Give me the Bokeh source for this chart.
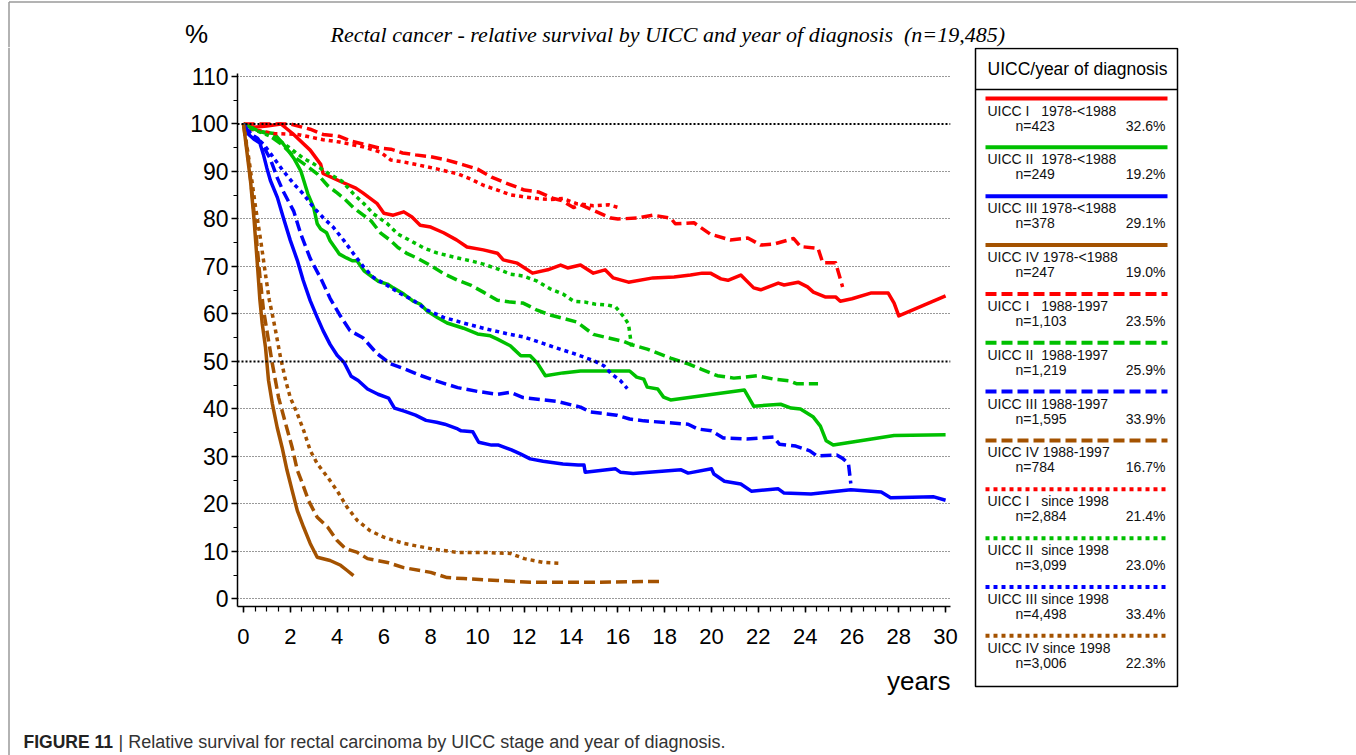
from bokeh.plotting import figure
from bokeh.models import Range1d, FixedTicker, Span
from bokeh.layouts import row, column
from bokeh.embed import file_html
from bokeh.resources import INLINE
from bokeh.core.properties import value

# ---------------- data ----------------
stages = ["UICC I", "UICC II", "UICC III", "UICC IV"]
stage_pads = ["\u00a0\u00a0\u00a0", "\u00a0\u00a0", "\u00a0", "\u00a0"]
periods = ["1978-<1988", "1988-1997", "since 1998"]
n_cases = ["423", "249", "378", "247", "1,103", "1,219", "1,595", "784",
           "2,884", "3,099", "4,498", "3,006"]
shares = ["32.6%", "19.2%", "29.1%", "19.0%", "23.5%", "25.9%", "33.9%", "16.7%",
          "21.4%", "23.0%", "33.4%", "22.3%"]

x_ticks = list(range(0, 31, 2))
x_minor = [i * 0.5 for i in range(0, 61)]
y_ticks = list(range(0, 111, 10))
y_minor = list(range(0, 111, 5))
ref_levels = [50, 100]

# UICC I 1978-<1988
s1_p1_years = [0, 0.4, 1.0, 1.6, 2.1, 2.85, 3.3, 3.4, 4.1, 4.8, 5.1, 5.7, 6.0, 6.4, 6.85, 7.2, 7.55, 8.0,
               8.55, 9.1, 9.55, 10.25, 10.85, 11.1, 11.7, 11.95, 12.35, 13.0, 13.55, 13.85, 14.4, 14.95,
               15.45, 15.8, 16.45, 17.5, 18.4, 19.1, 19.6, 19.95, 20.4, 20.7, 21.25, 21.8, 22.1, 22.85,
               23.1, 23.7, 24.1, 24.35, 24.85, 25.3, 25.5, 26.0, 26.8, 27.55, 27.8, 28.0, 30.0]
s1_p1_surv = [100, 99.3, 99.6, 100, 98, 94.5, 91.5, 89.6, 88, 86.5, 85.5, 83.3, 81.2, 80.8, 81.5, 80.4,
              78.7, 78.3, 77.1, 75.6, 74.1, 73.5, 72.8, 71.4, 70.7, 69.9, 68.6, 69.3, 70.3, 69.7, 70.3,
              68.6, 69.3, 67.6, 66.7, 67.6, 67.8, 68.2, 68.6, 68.6, 67.4, 67.1, 68.2, 65.5, 65.1, 66.5,
              66.1, 66.7, 65.7, 64.6, 63.6, 63.6, 62.7, 63.2, 64.4, 64.4, 62.3, 59.6, 63.8]
# UICC II 1978-<1988
s2_p1_years = [0, 0.7, 1.3, 1.7, 2.15, 2.45, 2.75, 3.0, 3.15, 3.3, 3.55, 3.7, 4.0, 4.1, 4.4, 4.65, 4.85,
               5.15, 5.45, 5.75, 6.15, 6.4, 6.85, 7.25, 7.55, 7.85, 8.3, 8.7, 9.4, 10.0, 10.55, 10.85,
               11.4, 11.55, 11.85, 12.25, 12.55, 12.9, 13.65, 14.4, 16.5, 16.8, 17.1, 17.25, 17.7, 17.95,
               18.25, 21.4, 21.8, 22.95, 23.4, 23.8, 24.35, 24.65, 24.9, 25.2, 27.8, 30.0]
s2_p1_surv = [100, 98.4, 98.0, 95.8, 92.8, 90.1, 85.3, 82.4, 79.0, 77.9, 77.1, 75.4, 73.3, 72.6, 71.8,
              71.2, 71.2, 69.1, 68.0, 66.9, 66.3, 65.5, 64.2, 62.7, 62.1, 60.6, 59.2, 58.1, 57.0, 55.8,
              55.4, 54.7, 53.3, 52.6, 51.2, 51.2, 49.7, 47.0, 47.6, 48.0, 48.0, 46.7, 46.3, 44.6, 44.2,
              42.5, 41.9, 44.0, 40.6, 41.0, 40.2, 40.0, 38.3, 36.4, 33.3, 32.4, 34.4, 34.6]
# UICC III 1978-<1988
s3_p1_years = [0, 0.2, 0.45, 0.7, 0.85, 1.0, 1.15, 1.45, 1.7, 2.0, 2.3, 2.55, 2.85, 3.15, 3.4, 3.7, 4.0,
               4.3, 4.6, 4.9, 5.3, 5.75, 6.2, 6.45, 6.9, 7.35, 7.8, 8.25, 8.6, 9.15, 9.3, 9.8, 10.05,
               10.6, 10.9, 11.45, 11.85, 12.25, 12.8, 13.65, 14.3, 14.55, 14.6, 15.9, 16.1, 16.65, 18.7,
               19.0, 20.0, 20.1, 20.55, 21.25, 21.7, 22.85, 23.1, 24.25, 25.95, 27.25, 27.65, 29.5, 30.0]
s3_p1_surv = [100, 97.9, 96.8, 96.0, 93.6, 90.7, 88.1, 84.5, 80.3, 75.5, 71.3, 67.1, 62.8, 59.3, 56.5,
              53.6, 51.3, 49.8, 46.9, 46.0, 44.2, 43.1, 42.3, 40.2, 39.5, 38.7, 37.6, 37.2, 36.8, 35.8,
              35.4, 35.2, 33.0, 32.4, 32.4, 31.4, 30.5, 29.5, 29.0, 28.4, 28.2, 28.2, 26.7, 27.4, 26.7,
              26.4, 27.2, 26.5, 27.4, 26.3, 24.8, 24.2, 22.7, 23.2, 22.3, 22.1, 23.0, 22.5, 21.3, 21.5,
              20.8]
# UICC IV 1978-<1988
s4_p1_years = [0, 0.15, 0.3, 0.45, 0.6, 0.7, 0.8, 0.94, 1.07, 1.23, 1.44, 1.65, 1.86, 2.08, 2.3, 2.57,
               2.85, 3.15, 3.7, 4.15, 4.43, 4.7]
s4_p1_surv = [100, 94, 88, 80, 70, 63, 58, 53, 46, 41.2, 36.1, 31.9, 27.1, 22.8, 18.6, 15.1, 11.7, 8.8,
              8.1, 7.1, 6.0, 4.9]
# UICC I 1988-1997
s1_p2_years = [0, 1.6, 2.0, 2.3, 2.85, 3.4, 4.1, 4.6, 5.1, 5.75, 6.3, 6.8, 7.35, 8.0, 8.7, 9.4, 10.0,
               10.6, 11.1, 12.0, 12.6, 13.25, 13.6, 14.1, 14.4, 14.95, 15.7, 16.0, 16.85, 17.5, 18.25,
               18.45, 19.25, 19.95, 20.8, 21.55, 22.1, 22.65, 23.5, 23.8, 24.55, 24.75, 25.3, 25.6]
s1_p2_surv = [100, 100, 100, 99.6, 98.9, 97.8, 97.4, 96.4, 95.8, 95.0, 94.7, 93.9, 93.5, 93.1, 92.4,
              91.4, 90.5, 88.8, 87.8, 86.1, 85.7, 84.3, 83.9, 82.4, 83.0, 81.8, 80.2, 80.0, 80.2, 80.8,
              80.2, 79.0, 79.2, 76.8, 75.6, 76.0, 74.5, 74.7, 75.9, 74.2, 73.8, 70.8, 70.8, 65.7]
# UICC II 1988-1997
s2_p2_years = [0, 0.6, 1.0, 1.6, 2.3, 2.7, 3.15, 3.6, 4.0, 4.3, 4.7, 5.15, 5.45, 5.85, 6.3, 6.6, 7.0,
               7.45, 8.0, 8.55, 9.15, 9.7, 10.25, 10.85, 11.4, 11.95, 12.55, 13.1, 13.65, 14.25, 14.95,
               16.25, 16.55, 17.25, 18.25, 19.0, 19.55, 20.25, 20.95, 21.95, 22.65, 23.35, 23.65, 24.55]
s2_p2_surv = [100, 98.6, 98.0, 95.8, 92.6, 91.2, 89.5, 87.0, 85.5, 84.3, 82.4, 80.7, 79.6, 77.1, 75.4,
              74.0, 72.7, 71.7, 70.2, 68.5, 67.1, 66.1, 64.6, 62.9, 62.5, 62.3, 60.8, 59.8, 59.1, 58.3,
              55.7, 54.2, 53.6, 52.6, 50.7, 49.5, 48.4, 47.0, 46.5, 47.0, 46.3, 45.9, 45.3, 45.3]
# UICC III 1988-1997
s3_p2_years = [0, 0.3, 0.6, 0.85, 1.15, 1.45, 1.7, 2.15, 2.45, 2.85, 3.3, 3.7, 4.1, 4.55, 5.1, 5.7,
               6.25, 6.85, 7.6, 8.3, 9.15, 10.0, 10.85, 11.4, 11.95, 12.7, 13.4, 14.4, 14.8, 15.95, 16.5,
               17.1, 18.2, 19.0, 19.4, 20.0, 20.5, 21.5, 22.65, 22.9, 23.6, 24.2, 24.5, 25.35, 25.6,
               25.85, 25.95]
s3_p2_surv = [100, 97.8, 97.0, 95.3, 92.6, 88.6, 85.8, 81.6, 76.8, 71.7, 67.5, 63.3, 59.9, 56.5, 55.0,
              51.7, 49.6, 48.5, 47.0, 45.8, 44.5, 43.7, 43.1, 43.5, 42.4, 42.0, 41.6, 40.4, 39.4, 38.7,
              37.9, 37.5, 37.1, 36.8, 35.8, 35.4, 33.9, 33.7, 34.1, 32.6, 32.2, 31.2, 30.1, 30.3, 29.6,
              28.5, 24.3]
# UICC IV 1988-1997
s4_p2_years = [0, 0.2, 0.4, 0.55, 0.7, 0.85, 1.0, 1.23, 1.5, 1.8, 2.08, 2.3, 2.52, 2.78, 3.15, 3.6,
               4.0, 4.36, 4.87, 5.3, 6.15, 6.84, 8.0, 8.7, 9.4, 10.85, 12.27, 14.4, 17.8]
s4_p2_surv = [100, 93, 84, 76, 68, 61, 56.5, 49.6, 42.4, 36.9, 31.9, 27.1, 24.3, 20.7, 17.2, 15.1,
              12.3, 10.6, 9.8, 8.5, 7.7, 6.6, 5.6, 4.5, 4.3, 3.9, 3.5, 3.5, 3.7]
# UICC I since 1998
s1_p3_years = [0, 0.3, 1.3, 2.3, 3.4, 4.1, 5.1, 5.85, 6.3, 6.85, 7.45, 8.3, 9.15, 9.7, 10.25, 10.85,
               11.4, 11.95, 12.55, 13.1, 13.65, 14.25, 14.95, 15.6, 16.1]
s1_p3_surv = [100, 98.9, 98.0, 97.8, 96.7, 96.2, 95.2, 94.1, 92.4, 92.0, 91.4, 90.5, 89.5, 88.4, 87.1,
              86.1, 85.1, 84.7, 84.3, 84.1, 84.3, 83.2, 82.8, 83.0, 82.3]
# UICC II since 1998
s2_p3_years = [0, 0.3, 0.85, 1.45, 2.0, 2.55, 3.0, 3.6, 4.2, 4.7, 5.15, 5.55, 6.15, 6.6, 7.15, 7.7,
               8.3, 9.15, 9.7, 10.25, 10.85, 11.4, 11.95, 12.55, 13.1, 13.65, 14.1, 14.6, 15.0, 15.55,
               15.9, 16.25, 16.45, 16.6]
s2_p3_surv = [100, 99.1, 98.0, 96.8, 94.9, 92.8, 91.6, 89.7, 88.0, 85.3, 83.2, 81.1, 79.0, 76.8, 75.4,
              73.9, 72.8, 71.8, 71.2, 70.5, 69.5, 68.4, 68.0, 66.9, 65.3, 64.2, 62.7, 62.5, 62.1, 61.9,
              61.5, 59.4, 57.9, 52.6]
# UICC III since 1998
s3_p3_years = [0, 0.3, 0.85, 1.3, 1.7, 2.15, 2.55, 3.0, 3.4, 3.85, 4.3, 4.7, 5.15, 5.55, 6.15, 6.7,
               7.25, 7.85, 8.55, 9.4, 10.25, 11.3, 11.95, 12.8, 13.4, 14.1, 14.95, 15.4, 15.7, 16.1, 16.4]
s3_p3_surv = [100, 98.1, 95.8, 92.8, 90.1, 87.4, 85.3, 82.4, 80.3, 78.2, 75.4, 72.7, 69.8, 67.7, 66.0,
              64.3, 62.9, 60.8, 59.3, 58.1, 57.0, 55.8, 55.2, 53.8, 52.8, 51.7, 50.2, 49.1, 47.5, 46.0,
              44.3]
# UICC IV since 1998
s4_p3_years = [0, 0.25, 0.5, 0.75, 0.95, 1.1, 1.25, 1.37, 1.58, 1.8, 2.0, 2.3, 2.57, 2.85, 3.15, 3.6,
               4.0, 4.43, 4.87, 5.4, 6.0, 6.84, 8.0, 9.15, 10.25, 11.4, 12.0, 12.8, 13.55]
s4_p3_surv = [100, 92, 83, 75, 68, 63, 59.5, 56.5, 50.9, 46, 42.4, 39.0, 35.5, 31.3, 28.5, 25.6, 22.8,
              19.3, 16.5, 14.4, 13.0, 11.7, 10.6, 9.8, 9.8, 9.6, 8.5, 7.7, 7.5]

curves = [
    (s1_p1_years, s1_p1_surv), (s2_p1_years, s2_p1_surv), (s3_p1_years, s3_p1_surv), (s4_p1_years, s4_p1_surv),
    (s1_p2_years, s1_p2_surv), (s2_p2_years, s2_p2_surv), (s3_p2_years, s3_p2_surv), (s4_p2_years, s4_p2_surv),
    (s1_p3_years, s1_p3_surv), (s2_p3_years, s2_p3_surv), (s3_p3_years, s3_p3_surv), (s4_p3_years, s4_p3_surv),
]

# ---------------- styles ----------------
stage_colors = ["#FF0000", "#00C000", "#0000FF", "#A45200"]
period_dashes = ["solid", "11 5", "4 4"]
SANS = "Liberation Sans"
FRAME_GREY = "#9a9a9a"


def no_align(fig):
    for attr, val in (("frame_align", False), ("title_location", None)):
        try:
            setattr(fig, attr, val)
        except Exception:
            pass


def canvas_fig(w, h):
    """Helper panel whose frame covers the whole figure, in pixel-like units (y downwards)."""
    f = figure(width=w, height=h, x_range=Range1d(0, w), y_range=Range1d(h, 0),
               output_backend="svg", toolbar_location=None, min_border=0,
               x_axis_type=None, y_axis_type=None)
    f.outline_line_color = None
    f.background_fill_color = "white"
    f.border_fill_color = "white"
    no_align(f)
    return f


def txt(f, x, y, s, size, font=SANS, align="left", style="normal", color="black"):
    f.text(x=[x], y=[y], text=[s], text_font=value(font), text_font_size=size,
           text_align=align, text_baseline="middle", text_font_style=style, text_color=color)


# ---------------- top strip (page y 0..47) ----------------
top = canvas_fig(1356, 47)
top.line([8.5, 1356], [1.5, 1.5], line_color=FRAME_GREY, line_width=1.5)
top.line([8.5, 8.5], [1.5, 47], line_color=FRAME_GREY, line_width=1.5)
txt(top, 196, 33, "%", "26px", align="center")
txt(top, 330, 34, "Rectal cancer - relative survival by UICC and year of diagnosis\u00a0\u00a0(n=19,485)",
    "22px", font="Liberation Serif", style="italic")

# ---------------- left strip (page x 0..20, y 47..755) ----------------
left = canvas_fig(20, 708)
left.line([8.5, 8.5], [0, 708], line_color=FRAME_GREY, line_width=1.5)

# ---------------- main chart (page x 20..960, y 47..655) ----------------
p = figure(width=940, height=608, x_range=Range1d(-0.256, 30.21), y_range=Range1d(-1.58, 110.63),
           output_backend="svg", toolbar_location=None,
           min_border_left=217, min_border_right=10, min_border_top=26, min_border_bottom=49)
no_align(p)
p.outline_line_color = None
p.background_fill_color = "white"
p.border_fill_color = "white"
p.xgrid.visible = False
p.ygrid.ticker = FixedTicker(ticks=[v for v in y_ticks if v not in ref_levels])
p.ygrid.grid_line_color = "#333333"
p.ygrid.grid_line_dash = "1 2"
p.ygrid.grid_line_width = 1

for lvl in ref_levels:
    p.add_layout(Span(location=lvl, dimension="width", line_color="black",
                      line_width=2.2, line_dash="2 2"))

xa = p.xaxis[0]
xa.ticker = FixedTicker(ticks=x_ticks, minor_ticks=x_minor)
xa.axis_line_width = 1.5
xa.major_tick_line_width = 1.5
xa.minor_tick_line_width = 1.2
xa.major_tick_in = 0
xa.major_tick_out = 6
xa.minor_tick_in = 0
xa.minor_tick_out = 5
xa.major_label_text_font = SANS
xa.major_label_text_font_size = "22px"
xa.major_label_text_color = "black"
xa.major_label_standoff = 16

ya = p.yaxis[0]
ya.ticker = FixedTicker(ticks=y_ticks, minor_ticks=y_minor)
ya.axis_line_width = 1.5
ya.major_tick_line_width = 1.5
ya.minor_tick_line_width = 1.2
ya.major_tick_in = 0
ya.major_tick_out = 6
ya.minor_tick_in = 0
ya.minor_tick_out = 4
ya.major_label_text_font = SANS
ya.major_label_text_font_size = "23px"
ya.major_label_text_color = "black"
ya.major_label_standoff = 3

for i, (xs, ys) in enumerate(curves):
    p.line(xs, ys, line_color=stage_colors[i % 4], line_dash=period_dashes[i // 4],
           line_width=3.5, line_join="round")

# ---------------- bottom strip under chart (page x 20..960, y 655..755) ----------------
bottom = canvas_fig(940, 100)
txt(bottom, 930, 25, "years", "26px", align="right")
txt(bottom, 3, 86, "FIGURE 11", "17.5px", style="bold", color="#222222")
txt(bottom, 98, 86, "| Relative survival for rectal carcinoma by UICC stage and year of diagnosis.",
    "18px", color="#333333")

# ---------------- legend panel (page x 960..1356, y 47..755) ----------------
lg = canvas_fig(396, 708)
lg.quad(left=[15], right=[217], top=[1], bottom=[639], fill_color=None,
        line_color="black", line_width=1.5)
lg.line([15, 217], [42, 42], line_color="black", line_width=1.5)
txt(lg, 27, 21, "UICC/year of diagnosis", "17.5px")

step = 48.85
names, n_texts = [], []
for k in range(12):
    names.append(stages[k % 4] + stage_pads[k % 4] + periods[k // 4])
    n_texts.append("n=" + n_cases[k])
    y_line = 51 + step * k
    lg.line([25, 207], [y_line, y_line], line_color=stage_colors[k % 4],
            line_dash=period_dashes[k // 4], line_width=4)

row_y1 = [63 + step * k for k in range(12)]
row_y2 = [78 + step * k for k in range(12)]
lg.text(x=[27] * 12, y=row_y1, text=names, text_font=value(SANS), text_font_size="14px",
        text_baseline="middle", text_color="#111111")
lg.text(x=[55] * 12, y=row_y2, text=n_texts, text_font=value(SANS), text_font_size="14px",
        text_baseline="middle", text_color="#111111")
lg.text(x=[205] * 12, y=row_y2, text=shares, text_font=value(SANS), text_font_size="14px",
        text_baseline="middle", text_align="right", text_color="#111111")

layout = column(top, row(left, column(p, bottom), lg))
open("out.html", "w").write(file_html(layout, INLINE))
